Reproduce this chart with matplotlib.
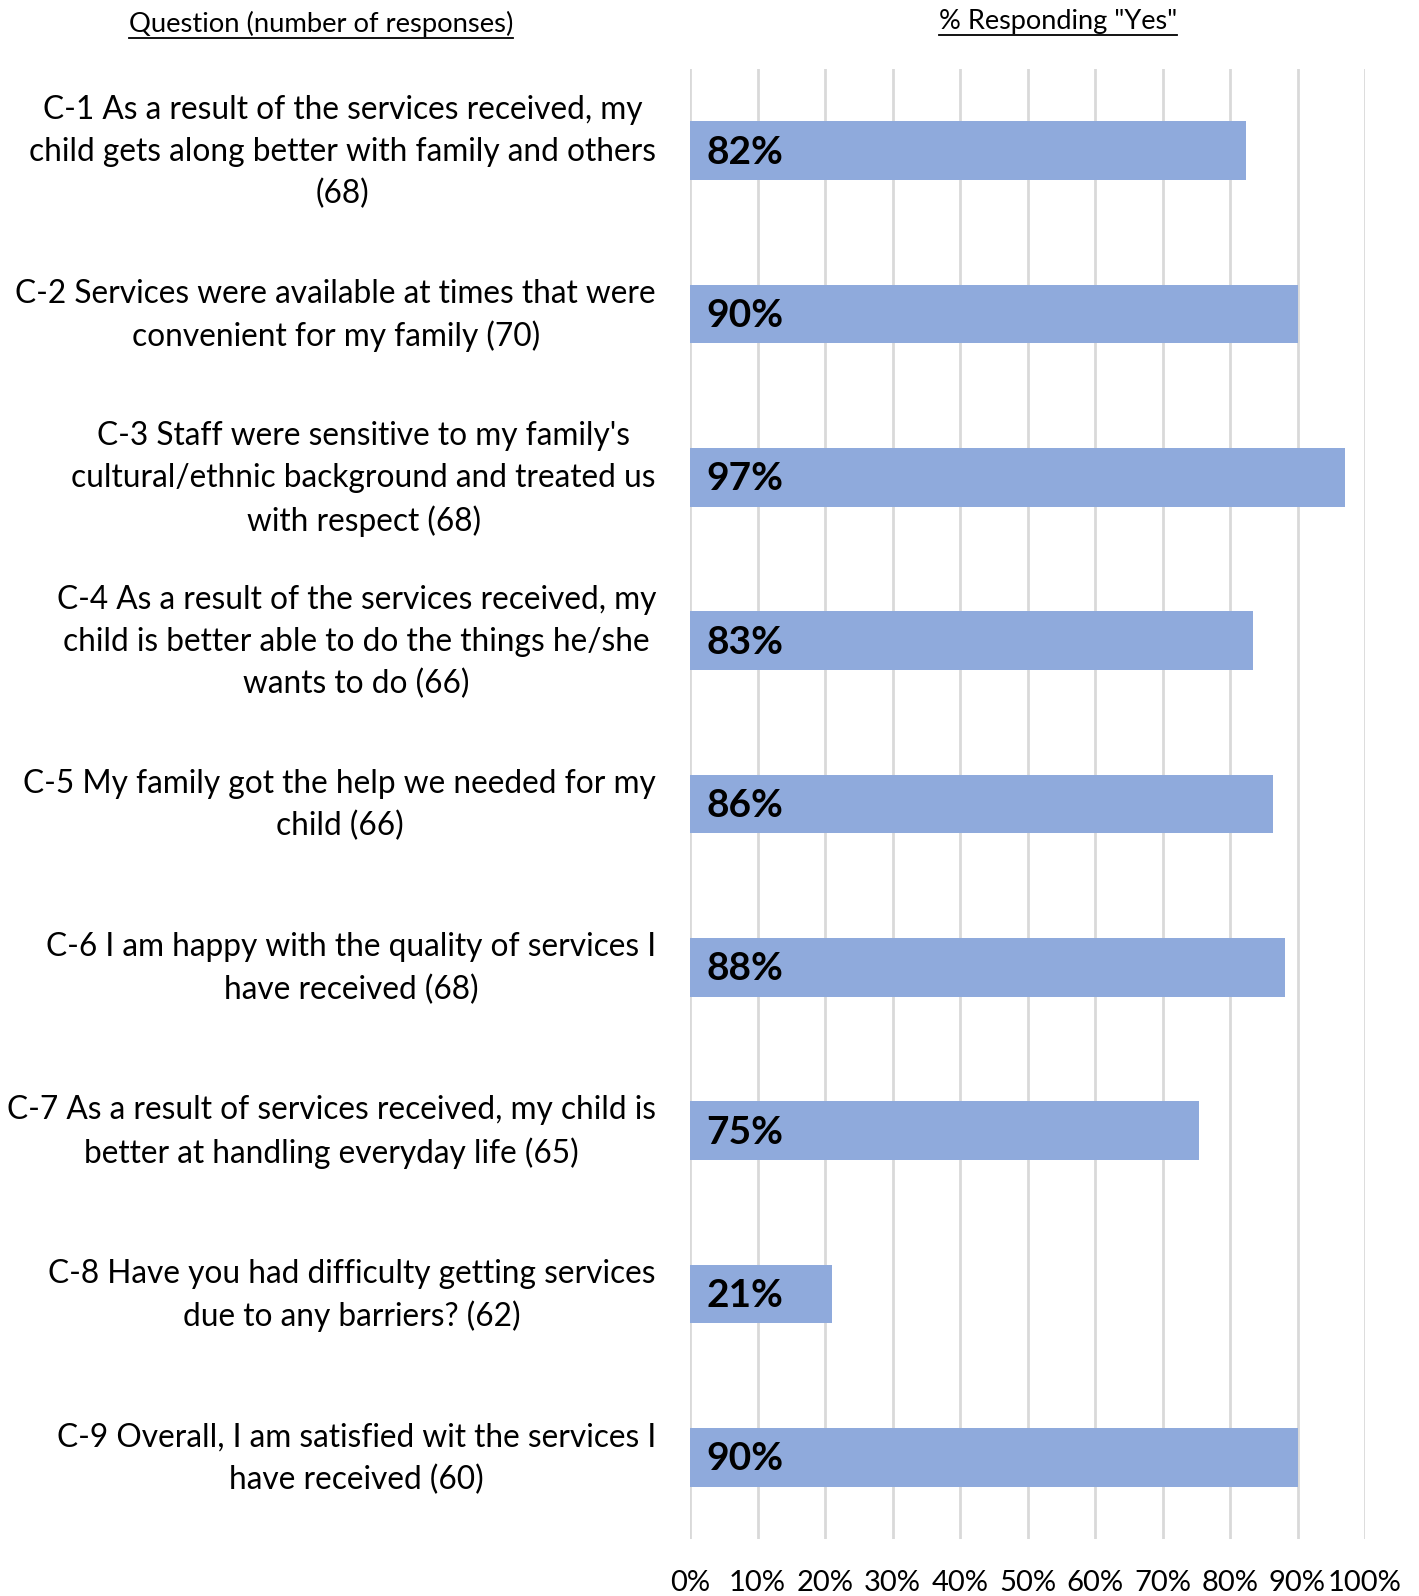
import matplotlib
matplotlib.use('Agg')
import matplotlib.pyplot as plt
import matplotlib.transforms as mtransforms
from matplotlib.lines import Line2D

# data
questions = [
    "C-1 As a result of the services received, my\nchild gets along better with family and others\n(68)",
    "C-2 Services were available at times that were\nconvenient for my family (70)",
    "C-3 Staff were sensitive to my family's\ncultural/ethnic background and treated us\nwith respect (68)",
    "C-4 As a result of the services received, my\nchild is better able to do the things he/she\nwants to do (66)",
    "C-5 My family got the help we needed for my\nchild (66)",
    "C-6 I am happy with the quality of services I\nhave received (68)",
    "C-7 As a result of services received, my child is\nbetter at handling everyday life (65)",
    "C-8 Have you had difficulty getting services\ndue to any barriers? (62)",
    "C-9 Overall, I am satisfied wit the services I\nhave received (60)",
]
pct_yes = [0.823, 0.90, 0.971, 0.834, 0.864, 0.882, 0.754, 0.21, 0.90]
x_ticks = [0, 0.1, 0.2, 0.3, 0.4, 0.5, 0.6, 0.7, 0.8, 0.9, 1.0]
x_ticklabels = ['0%', '10%', '20%', '30%', '40%', '50%', '60%', '70%', '80%', '90%', '100%']

plt.rcParams['font.family'] = ['Lato', 'DejaVu Sans']

W, H = 1419, 1596
fig = plt.figure(figsize=(W / 100, H / 100), dpi=100)
ax = fig.add_axes([690 / W, 1 - 1539 / H, (1365 - 690) / W, (1539 - 69) / H])

ypos = list(range(len(questions)))
ax.barh(ypos, pct_yes, height=0.36, color='#8faadc', zorder=2)
for y, v in zip(ypos, pct_yes):
    ax.text(0.024, y + 0.01, '{:.0f}%'.format(v * 100), ha='left', va='center',
            fontsize=28, fontweight='bold', color='black', zorder=3)

ax.set_xlim(0, 1.0)
ax.set_ylim(len(questions) - 0.5, -0.5)
ax.set_xticks(x_ticks)
ax.set_xticklabels(x_ticklabels, fontsize=21)
ax.set_yticks(ypos)
ax.set_yticklabels(questions, fontsize=22.8, ha='right', multialignment='center',
                   linespacing=1.48)
ax.tick_params(axis='y', length=0, pad=24.5)
ax.tick_params(axis='x', length=0, pad=22)
ax.grid(axis='x', color='#d9d9d9', linewidth=2, zorder=0)
for s in ax.spines.values():
    s.set_visible(False)

# nudge the question labels up a little so they sit centred on the bars
shift = mtransforms.ScaledTranslation(0, 5.5 / 72, fig.dpi_scale_trans)
for lab in ax.get_yticklabels():
    lab.set_transform(lab.get_transform() + shift)

# headers with underline
h1 = fig.text(321 / W, 1 - 24 / H, 'Question (number of responses)', ha='center',
              va='center', fontsize=19.7)
h2 = fig.text(1058 / W, 1 - 21 / H, '% Responding "Yes"', ha='center',
              va='center', fontsize=19.5)
fig.canvas.draw()
r = fig.canvas.get_renderer()
for h in (h1, h2):
    bb = h.get_window_extent(renderer=r)
    yl = bb.y0 - 1
    fig.add_artist(Line2D([bb.x0 / W, bb.x1 / W], [yl / H, yl / H],
                          color='black', linewidth=1.3))

fig.savefig('out.png', dpi=100)
